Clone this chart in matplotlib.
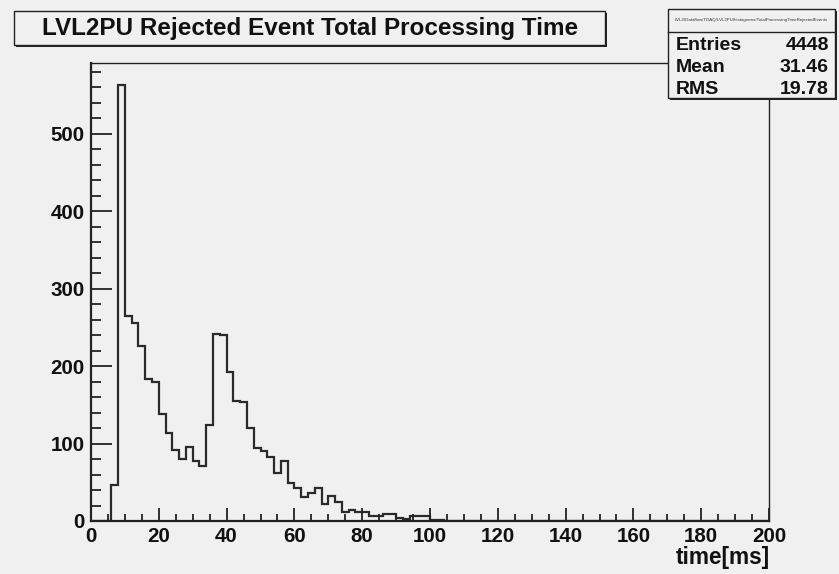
import numpy as np
import matplotlib
matplotlib.use("Agg")
import matplotlib.pyplot as plt
from matplotlib.patches import Rectangle
from matplotlib.ticker import MultipleLocator

# ---- data ----
bin_edges = np.arange(0, 202, 2)
counts = [0, 0, 0, 47, 563, 265, 255, 226, 183, 179,
          138, 113, 92, 80, 96, 78, 71, 124, 242, 240,
          192, 155, 153, 120, 94, 90, 83, 62, 78, 49,
          43, 31, 36, 43, 22, 32, 24, 11, 14, 12,
          11, 7, 6, 9, 9, 4, 3, 6, 7, 7,
          1, 1] + [0] * 48
title = "LVL2PU Rejected Event Total Processing Time"
hist_name = "LVL2/Dataflow/TDAQ/LVL2PU/histograms/TotalProcessingTimeRejectedEvents"
stats_labels = ["Entries", "Mean", "RMS"]
stats_values = ["4448", "31.46", "19.78"]
xlabel = "time[ms]"

W, H = 839, 574
BG = "#f0f0f0"
FONT = "Liberation Sans"

fig = plt.figure(figsize=(W / 100, H / 100), dpi=100)
fig.patch.set_facecolor(BG)

def fx(px):
    return px / W

def fy(py):
    return 1 - py / H

# axes frame in pixel coordinates
L, R, T, B = 91, 769, 63, 521
ax = fig.add_axes([fx(L), fy(B), fx(R) - fx(L), fy(T) - fy(B)])
ax.set_facecolor(BG)

ax.stairs(counts, bin_edges, color="#2a2a2a", linewidth=1.6)
ax.set_xlim(0, 200)
ax.set_ylim(0, max(counts) * 1.05)

ax.xaxis.set_major_locator(MultipleLocator(20))
ax.xaxis.set_minor_locator(MultipleLocator(5))
ax.yaxis.set_major_locator(MultipleLocator(100))
ax.yaxis.set_minor_locator(MultipleLocator(20))
ax.tick_params(axis="both", which="both", direction="in", top=False, right=False,
               color="#222222", width=1.3)
ax.tick_params(axis="x", which="major", length=9.5, pad=4.0)
ax.tick_params(axis="x", which="minor", length=5)
ax.tick_params(axis="y", which="major", length=15, pad=4.5)
ax.tick_params(axis="y", which="minor", length=7.5)
for lab in ax.get_xticklabels() + ax.get_yticklabels():
    lab.set_fontfamily(FONT)
    lab.set_fontweight("bold")
    lab.set_fontsize(14.8)
    lab.set_color("#111111")

for side in ["left", "bottom"]:
    ax.spines[side].set_linewidth(1.6)
    ax.spines[side].set_color("#222222")
for side in ["top", "right"]:
    ax.spines[side].set_linewidth(1.0)
    ax.spines[side].set_color("#222222")

fig.text(fx(770), fy(564), xlabel, ha="right", va="baseline", fontfamily=FONT,
         fontweight="bold", fontsize=16.3, color="#111111")

def box(x0, y0, x1, y1, shadow=3):
    # shadow
    fig.add_artist(Rectangle((fx(x0 + shadow), fy(y1 + shadow)), fx(x1) - fx(x0),
                             fy(y0) - fy(y1), transform=fig.transFigure,
                             facecolor="#222222", edgecolor="none", zorder=10))
    fig.add_artist(Rectangle((fx(x0), fy(y1)), fx(x1) - fx(x0), fy(y0) - fy(y1),
                             transform=fig.transFigure, facecolor=BG,
                             edgecolor="#222222", linewidth=1.0, zorder=11))

# title box
box(14, 11, 605, 45, shadow=2)
fig.text(fx(310), fy(28.5), title, ha="center", va="center", fontfamily=FONT,
         fontweight="bold", fontsize=17.5, color="#111111", zorder=12)

# stats box
box(668, 9, 835, 98, shadow=2)
fig.add_artist(plt.Line2D([fx(668), fx(835)], [fy(32), fy(32)], transform=fig.transFigure,
                          color="#222222", linewidth=1.0, zorder=12))
fig.text(fx(751), fy(20), hist_name, ha="center", va="center", fontfamily=FONT,
         fontsize=3.2, color="#333333", zorder=12)
for i, (lab, val) in enumerate(zip(stats_labels, stats_values)):
    y = 45 + i * 22.5
    fig.text(fx(676), fy(y), lab, ha="left", va="center", fontfamily=FONT,
             fontweight="bold", fontsize=14, color="#111111", zorder=12)
    fig.text(fx(829), fy(y), val, ha="right", va="center", fontfamily=FONT,
             fontweight="bold", fontsize=14, color="#111111", zorder=12)

fig.savefig("out.png", dpi=100, facecolor=BG)
